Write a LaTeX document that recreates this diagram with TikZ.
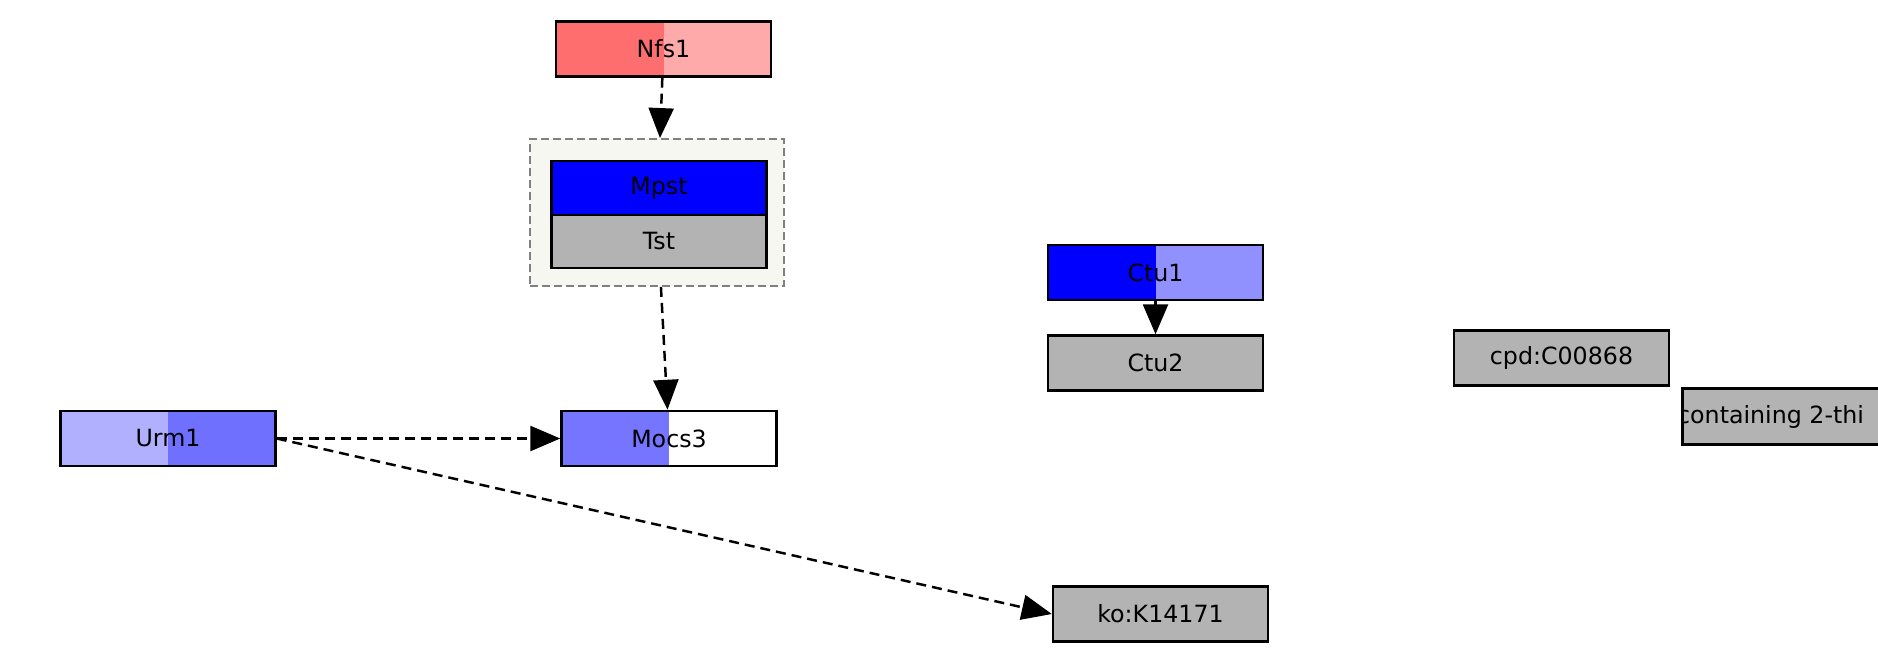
\documentclass[tikz,border=0pt]{standalone}
\usepackage{fontspec}
\setmainfont{DejaVu Sans}
\usetikzlibrary{arrows.meta}

\definecolor{kgray}{HTML}{B3B3B3}
\definecolor{cplxfill}{HTML}{F7F7F1}
\definecolor{redA}{HTML}{FF6E6E}
\definecolor{redB}{HTML}{FFAAAA}
\definecolor{bluA}{HTML}{0000FF}
\definecolor{bluB}{HTML}{9090FF}
\definecolor{bluC}{HTML}{B0B0FF}
\definecolor{bluD}{HTML}{7070FF}
\definecolor{bluE}{HTML}{7575FF}

\tikzset{
  gene/.style={draw, line width=1.4pt, minimum width=4.3cm, minimum height=1.1cm, inner sep=0pt},
  twotone/.style 2 args={path picture={
      \fill[#1] (path picture bounding box.south west) rectangle (path picture bounding box.north);
      \fill[#2] (path picture bounding box.south) rectangle (path picture bounding box.north east);}},
  rel/.style={line width=1.4pt, dash pattern=on 0.2cm off 0.12cm, -{Triangle[length=0.6cm, width=0.5cm]}}
}

\begin{document}
\begin{tikzpicture} [x=0.02cm, y=-0.02cm, font=\fontsize{13.5}{16}\selectfont]
  \useasboundingbox (0,0) rectangle (1878,649);
  \path (657, 212.5) node[draw=gray, fill=cplxfill, line width=1.1pt, dash pattern=on 0.16cm off 0.08cm,
                          minimum width=5.08cm, minimum height=2.94cm] (cplx) {}
        (663.5, 49)   node[gene, twotone={redA}{redB}] (Nfs1) {Nfs1}
        (659, 188)    node[gene, fill=bluA, minimum height=1.08cm] (Mpst) {Mpst}
        (659, 241.5)  node[gene, fill=kgray, minimum height=1.06cm] (Tst) {Tst}
        (168, 438.5)  node[gene, twotone={bluC}{bluD}] (Urm1) {Urm1}
        (669, 438.5)  node[gene, twotone={bluE}{white}] (Mocs3) {Mocs3}
        (1155.5, 272.5) node[gene, twotone={bluA}{bluB}] (Ctu1) {Ctu1}
        (1155.5, 363)   node[gene, fill=kgray] (Ctu2) {Ctu2}
        (1561.5, 358)   node[gene, fill=kgray] (C00868) {cpd:C00868}
        (1160.5, 614)   node[gene, fill=kgray] (K14171) {ko:K14171}
        (1790.5, 416.5) node[gene, fill=kgray] (thio) {};
  \begin{scope}
    \clip (thio.south west) rectangle (thio.north east);
    \node[anchor=west, inner sep=0pt] (thiotext) at ([xshift=-0.1cm]thio.west) {containing 2-thi};
  \end{scope}
  \draw [line width=1.4pt] (thio.south west) rectangle (thio.north east);

    \draw [rel] (Nfs1) to (cplx);
    \draw [rel] (cplx) to (Mocs3);
    \draw [rel] (Urm1.east) to (Mocs3.west);
    \draw [rel] (Urm1.east) to (K14171.west);
    \draw [line width=1.4pt, -{Triangle[length=0.6cm, width=0.5cm]}] (Ctu1) to (Ctu2);

\end{tikzpicture}
\end{document}
